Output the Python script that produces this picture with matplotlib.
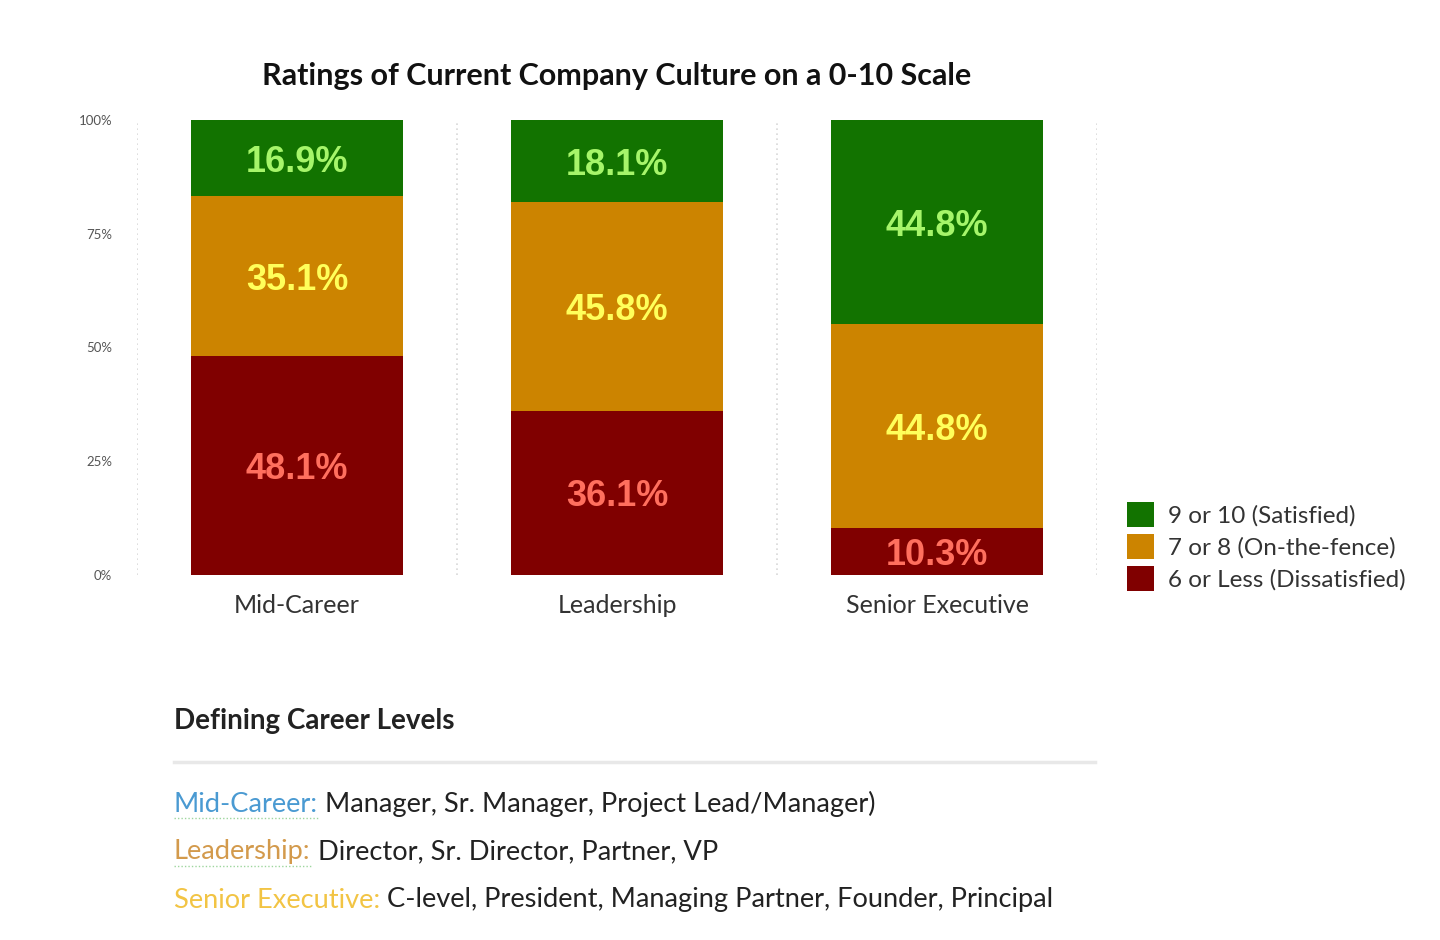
import matplotlib
matplotlib.use('Agg')

import matplotlib.pyplot as plt
from matplotlib.patches import Patch
import numpy as np

plt.rcParams['font.family'] = ['Lato', 'DejaVu Sans']

# data
levels = ['Mid-Career', 'Leadership', 'Senior Executive']
dissatisfied = [48.1, 36.1, 10.3]
on_the_fence = [35.1, 45.8, 44.8]
satisfied = [16.9, 18.1, 44.8]
series_names = ['9 or 10 (Satisfied)', '7 or 8 (On-the-fence)', '6 or Less (Dissatisfied)']
y_ticks = [0, 25, 50, 75, 100]
y_tick_labels = ['0%', '25%', '50%', '75%', '100%']

defs_title = 'Defining Career Levels'
def_names = ['Mid-Career:', 'Leadership:', 'Senior Executive:']
def_texts = [' Manager, Sr. Manager, Project Lead/Manager)',
             ' Director, Sr. Director, Partner, VP',
             ' C-level, President, Managing Partner, Founder, Principal']

# colours
c_red = '#800000'
c_orange = '#CC8400'
c_green = '#127300'
t_red = '#FF6F5E'
t_orange = '#FFFF5A'
t_green = '#A6F56A'
def_colors = ['#4A9AD2', '#D39A4C', '#F2C444']

W, H = 1440, 940
fig = plt.figure(figsize=(W / 100, H / 100), dpi=100)
fig.patch.set_facecolor('white')

ax = fig.add_axes([137 / W, 1 - 575 / H, 960 / W, 455 / H])
x = np.arange(len(levels))
bw = 0.665

bottoms = np.zeros(len(levels))
segs = [(dissatisfied, c_red, t_red), (on_the_fence, c_orange, t_orange), (satisfied, c_green, t_green)]
for vals, col, tcol in segs:
    vals = np.array(vals)
    # keep top segment flush with 100%
    heights = vals.copy()
    if col == c_green:
        heights = 100 - bottoms
    ax.bar(x, heights, bw, bottom=bottoms, color=col, edgecolor='none', zorder=2)
    for xi, b, h, v in zip(x, bottoms, heights, vals):
        ax.text(xi, b + h / 2, f'{v:.1f}%', ha='center', va='center_baseline',
                color=tcol, fontsize=26, fontweight='bold',
                family=['Liberation Sans', 'DejaVu Sans'], zorder=3)
    bottoms = bottoms + heights

ax.set_xlim(-0.5, 2.5)
ax.set_ylim(0, 100)
for gx in [-0.5, 0.5, 1.5, 2.5]:
    ax.axvline(gx, color='#d8d8d8', lw=1.2, ls=(0, (1, 2)), zorder=1)
for s in ax.spines.values():
    s.set_visible(False)
ax.set_yticks(y_ticks)
ax.set_yticklabels(y_tick_labels, fontsize=9.5, color='#555555')
ax.tick_params(axis='y', length=0, pad=18)
ax.set_xticks(x)
ax.set_xticklabels(levels, fontsize=18, color='#333333')
ax.tick_params(axis='x', length=0, pad=14)

ax.set_title('Ratings of Current Company Culture on a 0-10 Scale',
             fontsize=22, fontweight='bold', color='#111111', pad=25)

handles = [Patch(facecolor=c, edgecolor='none') for c in [c_green, c_orange, c_red]]
fig.legend(handles, series_names, loc='upper left', bbox_to_anchor=(1105 / W, 1 - 480 / H),
           frameon=False, fontsize=17.5, handlelength=1.1, handleheight=1.2,
           handletextpad=0.6, labelspacing=0.3, labelcolor='#333333')

# definitions block
fig.text(174 / W, 1 - 721 / H, defs_title, fontsize=20, fontweight='bold',
         color='#222222', va='center', ha='left')
fig.add_artist(plt.Line2D([174 / W, 1095 / W], [1 - 762 / H, 1 - 762 / H],
                          color='#e8e8e8', lw=2.5))

fig.canvas.draw()
renderer = fig.canvas.get_renderer()
for i, (name, txt, col) in enumerate(zip(def_names, def_texts, def_colors)):
    yy = 1 - (804 + 48 * i) / H
    t1 = fig.text(174 / W, yy, name, fontsize=19.6, color=col, va='center', ha='left')
    bb = t1.get_window_extent(renderer=renderer)
    fig.text(bb.x1 / W, yy, txt, fontsize=19.6, color='#222222', va='center', ha='left')
    if i < 2:
        # faint spell-check style underline below the coloured label
        uy = (bb.y0 - 1) / H
        fig.add_artist(plt.Line2D([bb.x0 / W, bb.x1 / W], [uy, uy], color='#9ed69e',
                                  lw=1.0, ls=(0, (1, 1.5))))

fig.savefig('out.png', dpi=100, facecolor='white')
